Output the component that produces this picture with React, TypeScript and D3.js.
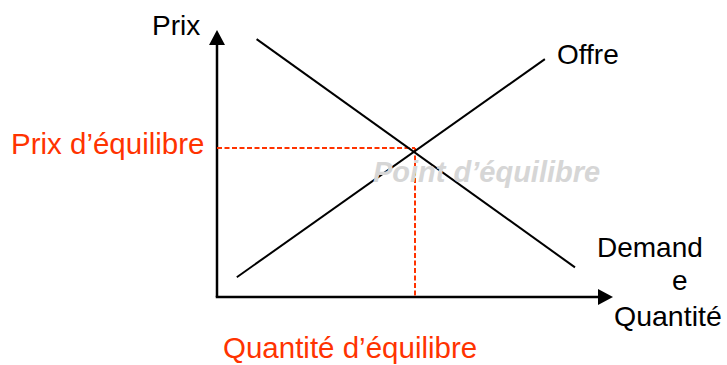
import React from "react";
import * as d3 from "d3";

const W = 727;
const H = 365;

// data units (quantity 0..100, price 0..100)
const demandQ = [10, 90.4];
const demandP = [96.6, 11.1];
const supplyQ = [5, 82.8];
const supplyP = [7.4, 89.1];
const eqQ = 50;
const eqP = 55.8;

const labelPrix = "Prix";
const labelQuantite = "Quantité";
const labelOffre = "Offre";
const labelDemande = ["Demand", "e"];
const labelPrixEq = "Prix d’équilibre";
const labelQuantEq = "Quantité d’équilibre";
const labelPoint = "Point d’équilibre";

const RED = "#ff3300";
const FONT = "'Liberation Sans', Arial, sans-serif";

export default function App() {
  const x = d3.scaleLinear().domain([0, 100]).range([217, 613]);
  const y = d3.scaleLinear().domain([0, 100]).range([297, 30]);
  const line = d3
    .line<[number, number]>()
    .x((d) => x(d[0]))
    .y((d) => y(d[1]));
  const demand: [number, number][] = demandQ.map((q, i) => [q, demandP[i]]);
  const supply: [number, number][] = supplyQ.map((q, i) => [q, supplyP[i]]);

  const x0 = x(0);
  const y0 = y(0);
  const xTip = x(100);
  const yTip = y(100);

  return (
    <svg
      width={W}
      height={H}
      style={{ position: "absolute", left: 0, top: 0, background: "#fff" }}
      fontFamily={FONT}
    >
      {/* axes */}
      <line x1={x0} y1={y0} x2={x0} y2={yTip + 14} stroke="#000" strokeWidth={2.5} />
      <path d={`M${x0},${yTip} L${x0 - 8},${yTip + 15} L${x0 + 8},${yTip + 15} Z`} fill="#000" />
      <line x1={x0 - 1.25} y1={y0} x2={xTip - 14} y2={y0} stroke="#000" strokeWidth={2.5} />
      <path d={`M${xTip},${y0} L${xTip - 15},${y0 - 8} L${xTip - 15},${y0 + 8} Z`} fill="#000" />

      {/* equilibrium dashed lines */}
      <line
        x1={x0}
        y1={y(eqP)}
        x2={x(eqQ)}
        y2={y(eqP)}
        stroke={RED}
        strokeWidth={2}
        strokeDasharray="5 2.5"
      />
      <line
        x1={x(eqQ)}
        y1={y(eqP)}
        x2={x(eqQ)}
        y2={y0}
        stroke={RED}
        strokeWidth={2}
        strokeDasharray="5 2.5"
      />

      {/* curves */}
      <path d={line(demand) || ""} stroke="#000" strokeWidth={2} fill="none" />
      <path d={line(supply) || ""} stroke="#000" strokeWidth={2} fill="none" />

      {/* labels */}
      <text x={152} y={35} fontSize={28} fill="#000">{labelPrix}</text>
      <text x={557} y={64} fontSize={28} fill="#000">{labelOffre}</text>
      <text x={597} y={257} fontSize={28} fill="#000">{labelDemande[0]}</text>
      <text x={672} y={290} fontSize={28} fill="#000">{labelDemande[1]}</text>
      <text x={614} y={326} fontSize={28.5} fill="#000">{labelQuantite}</text>
      <text x={11} y={154} fontSize={29.5} fill={RED}>{labelPrixEq}</text>
      <text x={223} y={358} fontSize={29.5} fill={RED}>{labelQuantEq}</text>
      <text
        x={373}
        y={182}
        fontSize={29}
        fontWeight="bold"
        fontStyle="italic"
        fill="#d6d6d6"
      >
        {labelPoint}
      </text>
    </svg>
  );
}
